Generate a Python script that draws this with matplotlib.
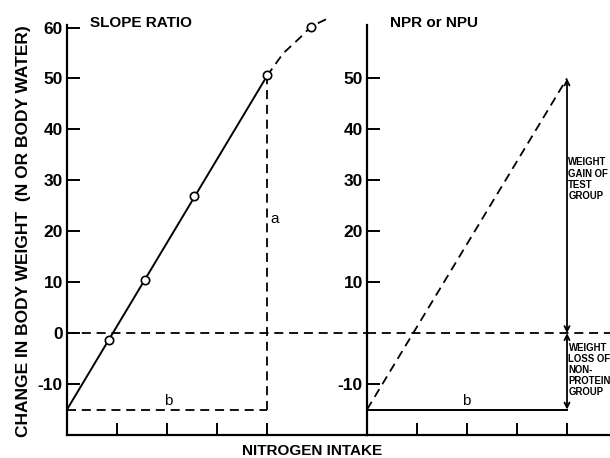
import numpy as np
import matplotlib.pyplot as plt

plt.rcParams['font.family'] = ['Liberation Sans', 'DejaVu Sans']

# left panel: slope ratio
sr_x = [0.83, 1.56, 2.54, 4.0, 4.88]
sr_y = [-1.3, 10.5, 27.0, 50.7, 60.2]
sr_fit_x = [0, 4]
sr_fit_y = [-15, 50.5]
sr_curve_x = [4.0, 4.32, 4.66, 4.88, 5.22]
sr_curve_y = [50.5, 54.9, 58.0, 60.2, 61.8]

# right panel: NPR / NPU
npr_x = [0, 4]
npr_y = [-15, 50]
base = -15

left_ticks = [60, 50, 40, 30, 20, 10, 0, -10]
right_ticks = [50, 40, 30, 20, 10, -10]
x_ticks = [0, 1, 2, 3, 4]

fig = plt.figure(figsize=(6.1, 4.58), dpi=100)
ax1 = fig.add_axes([67 / 610, 23 / 458, 300 / 610, 410 / 458])
ax2 = fig.add_axes([367 / 610, 23 / 458, 243 / 610, 410 / 458])

dash = dict(color='black', lw=1.3, linestyle=(0, (5, 3.2)))

for ax, xmax in [(ax1, 6), (ax2, 4.86)]:
    ax.set_xlim(0, xmax)
    ax.set_ylim(-20, 60.5)
    for s in ['top', 'right']:
        ax.spines[s].set_visible(False)
    for s in ['left', 'bottom']:
        ax.spines[s].set_linewidth(1.6)
    ax.set_xticks(x_ticks)
    ax.set_xticklabels([])
    ax.tick_params(direction='in', length=9, width=1.4, labelsize=12.5, pad=3)
    ax.axhline(0, **dash)
    ax.patch.set_visible(False)

ax1.set_yticks(left_ticks)
ax1.set_yticklabels([str(t) for t in left_ticks], fontweight='bold')
ax2.set_yticks(right_ticks)
ax2.set_yticklabels([str(t) for t in right_ticks], fontweight='bold')

# slope ratio panel
ax1.plot(sr_fit_x, sr_fit_y, color='black', lw=1.4)
ax1.plot(sr_curve_x, sr_curve_y, clip_on=False, **dash)
ax1.plot([sr_fit_x[1], sr_fit_x[1]], [base, sr_fit_y[1]], **dash)
ax1.plot([0, sr_fit_x[1]], [base, base], **dash)
ax1.plot(sr_x, sr_y, 'o', mfc='white', mec='black', ms=6, mew=1.2, clip_on=False, zorder=5)
ax1.text(4.07, 22.5, 'a', fontsize=11, ha='left', va='center')
ax1.text(2.02, base + 0.3, 'b', fontsize=11, ha='center', va='bottom')
ax1.text(0.45, 60.8, 'SLOPE RATIO', fontsize=11, fontweight='bold', va='center')

# NPR / NPU panel
ax2.plot(npr_x, npr_y, **dash)
ax2.plot(npr_x, [base, base], color='black', lw=1.4)
arr = dict(arrowstyle='<->', color='black', lw=1.3, shrinkA=0, shrinkB=0,
           mutation_scale=9)
ax2.annotate('', xy=(npr_x[1], npr_y[1]), xytext=(npr_x[1], 0), arrowprops=arr)
ax2.annotate('', xy=(npr_x[1], 0), xytext=(npr_x[1], base), arrowprops=arr)
ax2.text(1.98, base + 0.3, 'b', fontsize=11, ha='center', va='bottom')
ax2.text(0.45, 60.8, 'NPR or NPU', fontsize=11, fontweight='bold', va='center')
ax2.text(4.025, 34.5, 'WEIGHT\nGAIN OF\nTEST\nGROUP', fontsize=6.9, fontweight='bold',
         va='top', ha='left', linespacing=1.15, clip_on=False)
ax2.text(4.03, -2.0, 'WEIGHT\nLOSS OF\nNON-\nPROTEIN\nGROUP', fontsize=6.9, fontweight='bold',
         va='top', ha='left', linespacing=1.1, clip_on=False)

fig.text(24 / 610, 1 - 231 / 458, 'CHANGE IN BODY WEIGHT  (N OR BODY WATER)',
         rotation=90, fontsize=12.5, fontweight='bold', ha='center', va='center')
fig.text(312 / 610, 1 - 451 / 458, 'NITROGEN INTAKE', fontsize=11, fontweight='bold',
         ha='center', va='center')

fig.savefig('out.png', dpi=100)
